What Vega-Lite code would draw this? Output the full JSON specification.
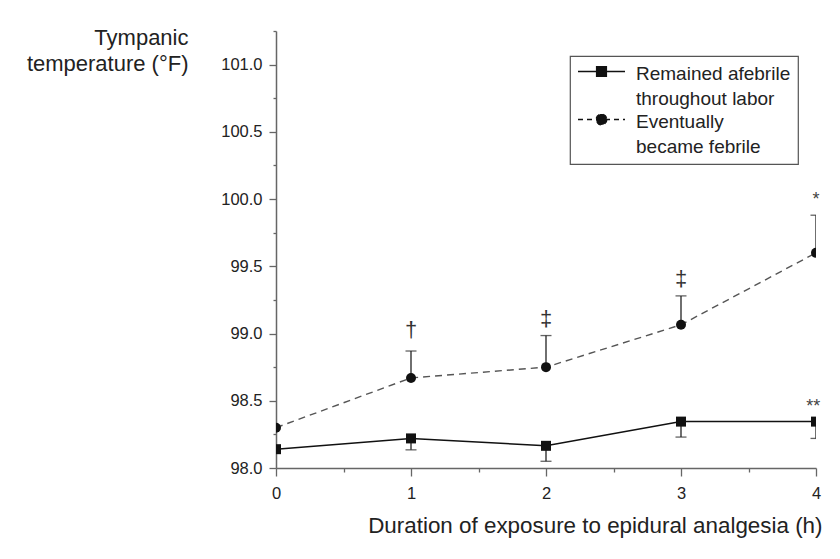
{
  "$schema": "https://vega.github.io/schema/vega-lite/v6.json",
  "width": 540,
  "height": 437,
  "autosize": {"type": "none"},
  "padding": {"left": 276, "top": 31, "right": 24, "bottom": 91},
  "background": "white",
  "config": {"view": {"stroke": null}, "font": "Liberation Sans"},
  "datasets": {
    "series": [
      {"series": "A", "x": 0, "y": 98.14, "err": null},
      {"series": "A", "x": 1, "y": 98.22, "err": 98.135},
      {"series": "A", "x": 2, "y": 98.165, "err": 98.05},
      {"series": "A", "x": 3, "y": 98.345, "err": 98.23},
      {"series": "A", "x": 4, "y": 98.345, "err": 98.22},
      {"series": "B", "x": 0, "y": 98.3, "err": null},
      {"series": "B", "x": 1, "y": 98.67, "err": 98.87},
      {"series": "B", "x": 2, "y": 98.75, "err": 98.985},
      {"series": "B", "x": 3, "y": 99.065, "err": 99.28},
      {"series": "B", "x": 4, "y": 99.6, "err": 99.88}
    ],
    "daggers": [
      {"x": 1, "y": 99.03, "label": "†"},
      {"x": 2, "y": 99.11, "label": "‡"},
      {"x": 3, "y": 99.405, "label": "‡"}
    ],
    "stars": [
      {"x": 4, "y": 99.99, "label": "*"},
      {"x": 3.98, "y": 98.45, "label": "**"}
    ]
  },
  "encoding": {
    "x": {
      "field": "x",
      "type": "quantitative",
      "scale": {"domain": [0, 4], "nice": false, "zero": false},
      "axis": {
        "values": [0, 0.5, 1, 1.5, 2, 2.5, 3, 3.5, 4],
        "labelExpr": "datum.value % 1 === 0 ? format(datum.value, 'd') : ''",
        "grid": false,
        "domainColor": "#666",
        "domainWidth": 1.5,
        "tickColor": "#666",
        "tickWidth": 1.3,
        "tickSize": {"condition": {"test": "datum.value % 1 === 0", "value": 8}, "value": 4},
        "labelFontSize": 16.5,
        "labelColor": "#222",
        "labelPadding": 9,
        "labelFlush": false,
        "title": "Duration of exposure to epidural analgesia (h)",
        "titleFontSize": 22.4,
        "titleFontWeight": "normal",
        "titleColor": "#222",
        "titleAlign": "right",
        "titleAnchor": null,
        "titleX": 546,
        "titleY": 64,
        "titleBaseline": "alphabetic"
      }
    },
    "y": {
      "field": "y",
      "type": "quantitative",
      "scale": {"domain": [98, 101.25], "nice": false, "zero": false},
      "axis": {
        "values": [98, 98.25, 98.5, 98.75, 99, 99.25, 99.5, 99.75, 100, 100.25, 100.5, 100.75, 101, 101.25],
        "labelExpr": "datum.value % 0.5 === 0 && datum.value < 101.2 ? format(datum.value, '.1f') : ''",
        "grid": false,
        "domainColor": "#666",
        "domainWidth": 1.5,
        "tickColor": "#666",
        "tickWidth": 1.3,
        "tickSize": {"condition": {"test": "datum.value % 0.5 === 0 && datum.value < 101.2", "value": 7}, "value": 3},
        "labelFontSize": 16.5,
        "labelColor": "#222",
        "labelPadding": 7,
        "labelFlush": false,
        "title": ["Tympanic", "temperature (°F)"],
        "titleFontSize": 22,
        "titleFontWeight": "normal",
        "titleColor": "#222",
        "titleAngle": 0,
        "titleAlign": "right",
        "titleAnchor": null,
        "titleBaseline": "top",
        "titleX": -88,
        "titleY": -4,
        "titleLineHeight": 26
      }
    }
  },
  "layer": [
    {
      "data": {"name": "series"},
      "transform": [{"filter": "datum.err != null"}],
      "mark": {"type": "rule", "clip": true, "color": "#222", "strokeWidth": 1.3},
      "encoding": {"y2": {"field": "err"}}
    },
    {
      "data": {"name": "series"},
      "transform": [{"filter": "datum.err != null"}],
      "mark": {"type": "tick", "orient": "horizontal", "clip": true, "color": "#222", "size": 11, "thickness": 1.3},
      "encoding": {"y": {"field": "err", "type": "quantitative"}}
    },
    {
      "data": {"name": "series"},
      "transform": [{"filter": "datum.series === 'A'"}],
      "mark": {"type": "line", "clip": true, "strokeWidth": 1.5, "color": "#111"},
      "encoding": {}
    },
    {
      "data": {"name": "series"},
      "transform": [{"filter": "datum.series === 'B'"}],
      "mark": {"type": "line", "clip": true, "strokeWidth": 1.4, "color": "#555", "strokeDash": [7, 5]},
      "encoding": {}
    },
    {
      "data": {"name": "series"},
      "transform": [{"filter": "datum.series === 'A'"}],
      "mark": {"type": "point", "shape": "square", "clip": true, "filled": true, "opacity": 1, "size": 100},
      "encoding": {
        "color": {
          "field": "series",
          "type": "nominal",
          "scale": {"domain": ["A", "B"], "range": ["#111", "#111"]},
          "legend": {
            "title": null,
            "orient": "none",
            "legendX": 294,
            "legendY": 25,
            "strokeColor": "#555",
            "padding": 7,
            "rowPadding": 2,
            "symbolSize": 2209,
            "symbolType": {"expr": "datum.value === 'A' ? 'M-1,-0.68H1M-0.21,-0.89H0.21V-0.47H-0.21Z' : 'M-1,-0.68H1M0.23,-0.68A0.23,0.23,0,1,1,-0.23,-0.68A0.23,0.23,0,1,1,0.23,-0.68Z'"},
            "symbolDash": {"expr": "datum.value === 'A' ? [1,0] : [5,4]"},
            "symbolStrokeColor": "#111",
            "symbolStrokeWidth": 1.3,
            "symbolFillColor": "#111",
            "symbolOpacity": 1,
            "labelFontSize": 19,
            "labelColor": "#222",
            "labelOffset": 10,
            "labelBaseline": "top",
            "labelLimit": 300,
            "labelExpr": "datum.value === 'A' ? ['Remained afebrile', 'throughout labor'] : ['Eventually', 'became febrile']",
            "encode": {
              "legend": {"update": {"strokeWidth": {"value": 1.2}}},
              "labels": {"update": {"dy": {"value": -23}, "lineHeight": {"value": 25}}}
            }
          }
        }
      }
    },
    {
      "data": {"name": "series"},
      "transform": [{"filter": "datum.series === 'B'"}],
      "mark": {"type": "point", "shape": "circle", "clip": true, "filled": true, "color": "#111", "opacity": 1, "size": 100},
      "encoding": {}
    },
    {
      "data": {"name": "daggers"},
      "mark": {"type": "text", "clip": false, "fontSize": 22, "color": "#333", "baseline": "middle"},
      "encoding": {"text": {"field": "label"}}
    },
    {
      "data": {"name": "stars"},
      "mark": {"type": "text", "clip": false, "fontSize": 18, "color": "#444", "baseline": "middle"},
      "encoding": {"text": {"field": "label"}}
    }
  ]
}
